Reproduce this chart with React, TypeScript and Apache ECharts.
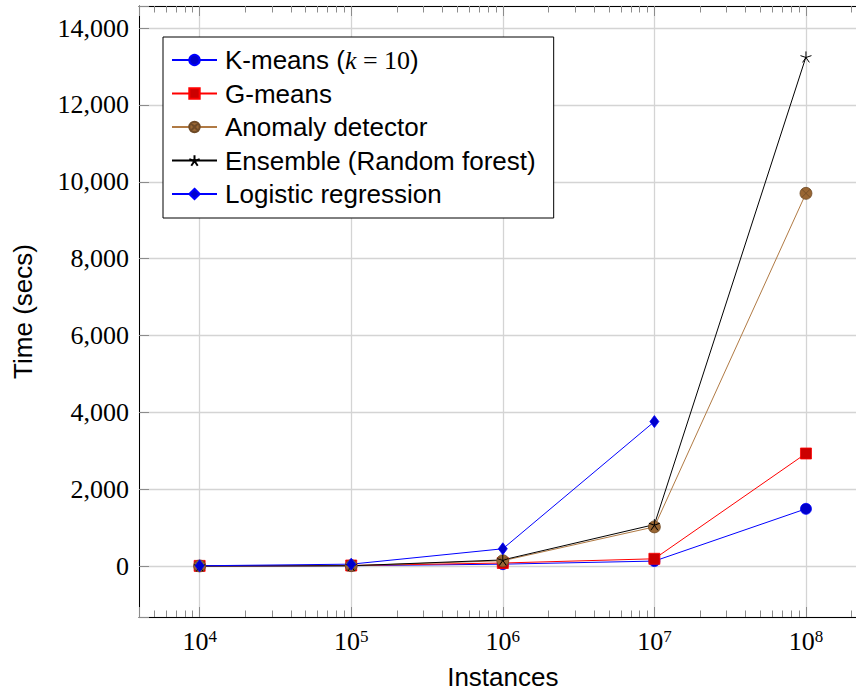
import React, { useEffect, useRef } from 'react';
import * as echarts from 'echarts';

// ---- data ----
const instances = [1e4, 1e5, 1e6, 1e7, 1e8];
const kmeansTimes = [2, 10, 50, 130, 1490];
const gmeansTimes = [5, 15, 80, 190, 2930];
const anomalyTimes = [3, 10, 140, 1020, 9700];
const ensembleTimes = [2, 8, 160, 1080, 13250];
const logisticTimes = [8, 50, 450, 3760];
const seriesNames = [
  'K-means (k = 10)',
  'G-means',
  'Anomaly detector',
  'Ensemble (Random forest)',
  'Logistic regression',
];
const yTickStep = 2000;

// ---- axis extents / decoration ----
const X_LOG_MIN = 3.6;
const X_LOG_MAX = 8.4;
const Y_MIN = -1325;
const Y_MAX = 14575;
const minorTickValues: number[] = [];
for (let d = 3; d <= 8; d++) {
  for (let k = 2; k <= 9; k++) {
    const lv = Math.log10(k * Math.pow(10, d));
    if (lv > X_LOG_MIN && lv < X_LOG_MAX) minorTickValues.push(lv);
  }
}

const SANS = '"Liberation Sans", Arial, Helvetica, sans-serif';
const SERIF = '"Liberation Serif", "Times New Roman", serif';
const TICK_COLOR = '#8c8c8c';
const GRID_COLOR = '#d4d4d4';

const STAR = 'path://M0,0L0,-1M0,0L-0.951,-0.309M0,0L-0.588,0.809M0,0L0.588,0.809M0,0L0.951,-0.309';
const OTIMES =
  'path://M1,0A1,1,0,1,1,-1,0A1,1,0,1,1,1,0ZM-0.707,-0.707L0.707,0.707M-0.707,0.707L0.707,-0.707';

const pair = (vals: number[]) => vals.map((v, i) => [instances[i], v]);

export default function App() {
  const ref = useRef<HTMLDivElement>(null);

  useEffect(() => {
    if (!ref.current) return;
    const chart = echarts.init(ref.current, undefined, { renderer: 'svg' });

    const xMin = Math.pow(10, X_LOG_MIN);
    const xMax = Math.pow(10, X_LOG_MAX);

    const minorAxis = (position: 'top' | 'bottom') => ({
      type: 'value',
      min: X_LOG_MIN,
      max: X_LOG_MAX,
      position,
      axisLine: { show: false, onZero: false },
      axisTick: {
        show: true,
        inside: true,
        length: 6.5,
        customValues: minorTickValues,
        lineStyle: { color: TICK_COLOR, width: 1 },
      },
      axisLabel: { show: false },
      splitLine: { show: false },
    });

    const option: any = {
      animation: false,
      backgroundColor: '#ffffff',
      textStyle: { fontFamily: SANS },
      grid: { left: 139, right: 3.4, top: 6, bottom: 78, containLabel: false },
      xAxis: [
        {
          type: 'log',
          logBase: 10,
          min: xMin,
          max: xMax,
          position: 'bottom',
          name: 'Instances',
          nameLocation: 'middle',
          nameGap: 47,
          nameTextStyle: { fontFamily: SANS, fontSize: 26, color: '#000', lineHeight: 26 },
          axisLine: { show: true, onZero: false, lineStyle: { color: '#000', width: 1 } },
          axisTick: { show: true, inside: true, length: 10, lineStyle: { color: TICK_COLOR, width: 1 } },
          axisLabel: {
            margin: 11,
            formatter: (v: number) => {
              const e = Math.log10(v);
              const r = Math.round(e);
              return Math.abs(e - r) < 1e-6 ? `{b|10}{s|${r}}` : '';
            },
            rich: {
              b: { fontFamily: SERIF, fontSize: 26, lineHeight: 26, color: '#000' },
              s: { fontFamily: SERIF, fontSize: 17, lineHeight: 17, verticalAlign: 'top', color: '#000' },
            },
          },
          splitLine: { show: true, lineStyle: { color: GRID_COLOR, width: 1.3 } },
        },
        {
          type: 'log',
          logBase: 10,
          min: xMin,
          max: xMax,
          position: 'top',
          axisLine: { show: true, onZero: false, lineStyle: { color: '#000', width: 1 } },
          axisTick: { show: true, inside: true, length: 10, lineStyle: { color: TICK_COLOR, width: 1 } },
          axisLabel: { show: false },
          splitLine: { show: false },
        },
        minorAxis('bottom'),
        minorAxis('top'),
      ],
      yAxis: [
        {
          type: 'value',
          min: Y_MIN,
          max: Y_MAX,
          minInterval: yTickStep,
          maxInterval: yTickStep,
          splitNumber: 7,
          position: 'left',
          name: 'Time (secs)',
          nameLocation: 'middle',
          nameGap: 103,
          nameTextStyle: { fontFamily: SANS, fontSize: 26, color: '#000', lineHeight: 26 },
          axisLine: { show: true, onZero: false, lineStyle: { color: '#000', width: 1 } },
          axisTick: { show: true, inside: true, length: 10, lineStyle: { color: TICK_COLOR, width: 1 } },
          axisLabel: {
            margin: 10,
            fontFamily: SERIF,
            fontSize: 26,
            color: '#000',
            formatter: (v: number) =>
              Math.abs(v % yTickStep) < 1e-6 ? v.toLocaleString('en-US') : '',
          },
          splitLine: { show: true, lineStyle: { color: GRID_COLOR, width: 1.3 } },
        },
      ],
      legend: {
        show: true,
        orient: 'vertical',
        left: 163,
        top: 37,
        padding: [10, 18, 11, 8],
        itemGap: 7.5,
        itemWidth: 45,
        itemHeight: 13,
        backgroundColor: '#ffffff',
        borderColor: '#000',
        borderWidth: 1,
        borderRadius: 0,
        selectedMode: false,
        data: seriesNames,
        formatter: (name: string) => (name === seriesNames[0] ? 'K-means ({i|k}{m| = 10})' : name),
        textStyle: {
          fontFamily: SANS,
          fontSize: 26,
          color: '#000',
          lineHeight: 26,
          padding: [0, 0, 0, 3],
          rich: {
            i: { fontFamily: SERIF, fontStyle: 'italic', fontSize: 26, lineHeight: 26, color: '#000' },
            m: { fontFamily: SERIF, fontSize: 26, lineHeight: 26, color: '#000' },
          },
        },
      },
      series: [
        {
          name: seriesNames[0],
          type: 'line',
          data: pair(kmeansTimes),
          symbol: 'circle',
          symbolSize: 11,
          lineStyle: { color: '#0000ff', width: 1 },
          itemStyle: { color: '#0000cc', borderColor: '#0000ff', borderWidth: 0.8 },
          emphasis: { disabled: true },
        },
        {
          name: seriesNames[1],
          type: 'line',
          data: pair(gmeansTimes),
          symbol: 'rect',
          symbolSize: 11,
          lineStyle: { color: '#ff0000', width: 1 },
          itemStyle: { color: '#cc0000', borderColor: '#ff0000', borderWidth: 0.8 },
          emphasis: { disabled: true },
        },
        {
          name: seriesNames[2],
          type: 'line',
          data: pair(anomalyTimes),
          symbol: OTIMES,
          symbolSize: 12,
          lineStyle: { color: '#b07a44', width: 1 },
          itemStyle: { color: '#996633', borderColor: '#6e4a26', borderWidth: 0.8 },
          emphasis: { disabled: true },
        },
        {
          name: seriesNames[3],
          type: 'line',
          data: pair(ensembleTimes),
          symbol: STAR,
          symbolSize: 11,
          lineStyle: { color: '#000000', width: 1 },
          itemStyle: { color: '#000000', borderColor: '#000000', borderWidth: 1 },
          emphasis: { disabled: true },
        },
        {
          name: seriesNames[4],
          type: 'line',
          data: pair(logisticTimes),
          symbol: 'diamond',
          symbolSize: [9, 12],
          lineStyle: { color: '#0000ff', width: 1 },
          itemStyle: { color: '#0000cc', borderColor: '#0000ff', borderWidth: 0.8 },
          emphasis: { disabled: true },
        },
      ],
    };

    chart.setOption(option);
    return () => {
      chart.dispose();
    };
  }, []);

  return (
    <div
      style={{
        position: 'fixed',
        left: 0,
        top: 0,
        width: 856,
        height: 695,
        overflow: 'hidden',
        background: '#fff',
      }}
    >
      <div ref={ref} style={{ width: 870, height: 695 }} />
    </div>
  );
}
